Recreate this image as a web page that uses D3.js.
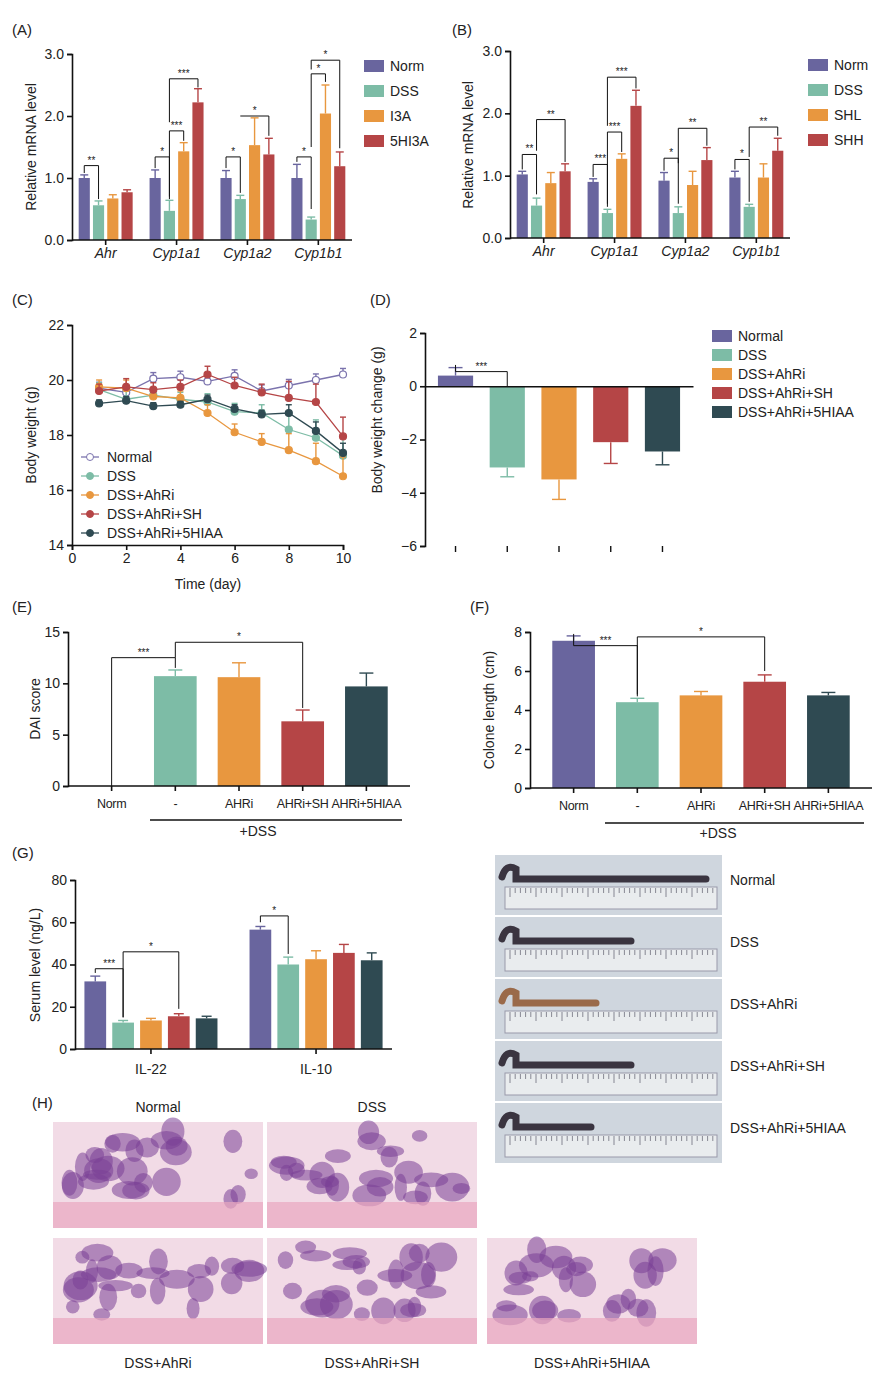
<!DOCTYPE html>
<html><head><meta charset="utf-8">
<script src="https://cdn.jsdelivr.net/npm/d3@7"></script>
<style>body{margin:0;background:#fff}text{font-family:Arial,"Liberation Sans",sans-serif;fill:#222}</style>
</head><body><svg id="fig" width="889" height="1379"></svg>
<script>
// colours
var colA = ["#69659e", "#7dbca6", "#e8973f", "#b54546"];
var col5 = ["#69659e", "#7dbca6", "#e8973f", "#b54546", "#2f4a52"];

// (A) mRNA
var genes = ["Ahr", "Cyp1a1", "Cyp1a2", "Cyp1b1"];
var legA = ["Norm", "DSS", "I3A", "5HI3A"];
var valA = [[1.0, 0.56, 0.67, 0.77], [1.0, 0.47, 1.43, 2.22], [1.0, 0.66, 1.53, 1.38], [1.0, 0.33, 2.04, 1.19]];
var errA = [[0.05, 0.07, 0.06, 0.04], [0.13, 0.17, 0.14, 0.22], [0.12, 0.06, 0.44, 0.26], [0.22, 0.04, 0.46, 0.23]];
// (B)
var legB = ["Norm", "DSS", "SHL", "SHH"];
var valB = [[1.02, 0.52, 0.88, 1.07], [0.9, 0.4, 1.27, 2.12], [0.92, 0.4, 0.85, 1.25], [0.97, 0.5, 0.97, 1.4]];
var errB = [[0.05, 0.12, 0.17, 0.12], [0.05, 0.06, 0.08, 0.25], [0.13, 0.1, 0.22, 0.2], [0.1, 0.04, 0.22, 0.2]];
// (C) body weight
var days = [1, 2, 3, 4, 5, 6, 7, 8, 9, 10];
var groups = ["Normal", "DSS", "DSS+AhRi", "DSS+AhRi+SH", "DSS+AhRi+5HIAA"];
var wNormal = [19.7, 19.55, 20.05, 20.1, 19.95, 20.15, 19.6, 19.8, 20.0, 20.2];
var wDSS = [19.65, 19.3, 19.45, 19.3, 19.2, 18.85, 18.8, 18.2, 17.9, 17.25];
var wAhRi = [19.75, 19.7, 19.4, 19.35, 18.8, 18.1, 17.75, 17.45, 17.05, 16.5];
var wSH = [19.6, 19.75, 19.65, 19.75, 20.2, 19.8, 19.55, 19.35, 19.2, 17.95];
var w5HIAA = [19.15, 19.25, 19.05, 19.1, 19.3, 18.95, 18.75, 18.8, 18.15, 17.35];
var wErr = [0.25, 0.3, 0.25, 0.25, 0.3, 0.3, 0.3, 0.6, 0.65, 0.7];
// (D) weight change
var chgVal = [0.4, -3.05, -3.5, -2.1, -2.45];
var chgErr = [0.3, 0.35, 0.75, 0.8, 0.5];
// (E) DAI
var xLab = ["Norm", "-", "AHRi", "AHRi+SH", "AHRi+5HIAA"];
var daiVal = [0, 10.7, 10.6, 6.3, 9.7];
var daiErr = [0, 0.6, 1.4, 1.1, 1.3];
// (F) colon length
var colVal = [7.55, 4.4, 4.75, 5.45, 4.75];
var colErr = [0.25, 0.2, 0.2, 0.35, 0.15];
// (G) serum
var cyto = ["IL-22", "IL-10"];
var serVal = [[32, 12.5, 13.5, 15.5, 14.5], [56.5, 40, 42.5, 45.5, 42]];
var serErr = [[2.5, 1, 1, 1.2, 1], [1.5, 3.5, 4, 4, 3.5]];

var svg = d3.select("#fig");

function label(x, y, t, o) {
  o = o || {};
  return svg.append("text").attr("x", x).attr("y", y).text(t)
    .attr("font-size", o.size || 14).attr("text-anchor", o.anchor || "start")
    .attr("font-style", o.italic ? "italic" : null);
}
function styleAxis(g) {
  g.selectAll("path,line").attr("stroke", "#111").attr("stroke-width", 1.6);
  g.selectAll("text").attr("font-size", 14).attr("fill", "#222");
}
function ylabel(x, y, t) {
  svg.append("text").attr("transform", "translate(" + x + "," + y + ") rotate(-90)")
    .attr("text-anchor", "middle").attr("font-size", 14).text(t);
}
function errBar(x, y0, y1, c, w) {
  svg.append("line").attr("x1", x).attr("x2", x).attr("y1", y0).attr("y2", y1).attr("stroke", c).attr("stroke-width", 1.4);
  svg.append("line").attr("x1", x - w).attr("x2", x + w).attr("y1", y1).attr("y2", y1).attr("stroke", c).attr("stroke-width", 1.4);
}
function bracket(x1, x2, ya, yb, y, t) {
  svg.append("path").attr("d", "M" + x1 + "," + ya + "V" + y + "H" + x2 + "V" + yb)
    .attr("fill", "none").attr("stroke", "#111").attr("stroke-width", 1);
  label((x1 + x2) / 2, y - 2, t, {size: 10, anchor: "middle"});
}
function legend(x, y, names, cols, dy) {
  names.forEach(function(n, i) {
    svg.append("rect").attr("x", x).attr("y", y + i * dy - 6).attr("width", 20).attr("height", 12).attr("fill", cols[i]);
    label(x + 26, y + i * dy + 5, n);
  });
}

// grouped gene chart
function geneChart(x0, x1, yTop, yBot, vals, errs, names, legX, legY) {
  var x = d3.scaleBand().domain(genes).range([x0, x1]).paddingInner(0.15).paddingOuter(0.05);
  var xs = d3.scaleBand().domain(d3.range(4)).range([0, x.bandwidth()]).padding(0.22);
  var y = d3.scaleLinear().domain([0, 3]).range([yBot, yTop]);
  genes.forEach(function(g, gi) {
    vals[gi].forEach(function(v, i) {
      var bx = x(g) + xs(i);
      svg.append("rect").attr("x", bx).attr("y", y(v)).attr("width", xs.bandwidth()).attr("height", yBot - y(v)).attr("fill", colA[i]);
      errBar(bx + xs.bandwidth() / 2, y(v), y(v + errs[gi][i]), colA[i], 4);
    });
  });
  var ya = svg.append("g").attr("transform", "translate(" + x0 + ",0)")
    .call(d3.axisLeft(y).tickValues([0, 1, 2, 3]).tickFormat(d3.format(".1f")).tickSize(5));
  styleAxis(ya);
  var xa = svg.append("g").attr("transform", "translate(0," + yBot + ")").call(d3.axisBottom(x).tickSize(5));
  styleAxis(xa);
  xa.select(".domain").attr("d", "M" + x0 + ",0H" + x1);
  xa.selectAll("text").attr("font-style", "italic");
  legend(legX, legY, names, colA, 25);
  return {x: x, xs: xs, y: y};
}

// (A)
label(12, 35, "(A)", {size: 15});
var A = geneChart(72, 352, 54, 240, valA, errA, legA, 364, 66);
ylabel(36, 147, "Relative mRNA level");
function cx(S, gi, i) { return S.x(genes[gi]) + S.xs(i) + S.xs.bandwidth() / 2; }
bracket(cx(A, 0, 0), cx(A, 0, 1), A.y(1.08), A.y(0.66), A.y(1.2), "**");
bracket(cx(A, 1, 0), cx(A, 1, 1), A.y(1.16), A.y(0.66), A.y(1.34), "*");
bracket(cx(A, 1, 1), cx(A, 1, 2), A.y(0.7), A.y(1.6), A.y(1.76), "***");
bracket(cx(A, 1, 1), cx(A, 1, 3), A.y(1.9), A.y(2.46), A.y(2.6), "***");
bracket(cx(A, 2, 0), cx(A, 2, 1), A.y(1.16), A.y(0.76), A.y(1.34), "*");
bracket(cx(A, 2, 1), cx(A, 2, 3), A.y(2.0), A.y(1.68), A.y(2.0), "*");
bracket(cx(A, 3, 0), cx(A, 3, 1), A.y(1.26), A.y(0.5), A.y(1.34), "*");
bracket(cx(A, 3, 1), cx(A, 3, 2), A.y(1.5), A.y(2.55), A.y(2.68), "*");
bracket(cx(A, 3, 1), cx(A, 3, 3), A.y(2.75), A.y(1.48), A.y(2.9), "*");

// (B)
label(452, 35, "(B)", {size: 15});
var B = geneChart(510, 790, 51, 238, valB, errB, legB, 808, 65);
ylabel(473, 145, "Relative mRNA level");
bracket(cx(B, 0, 0), cx(B, 0, 1), B.y(1.1), B.y(0.7), B.y(1.34), "**");
bracket(cx(B, 0, 1), cx(B, 0, 3), B.y(1.4), B.y(1.22), B.y(1.9), "**");
bracket(cx(B, 1, 0), cx(B, 1, 1), B.y(0.98), B.y(0.5), B.y(1.18), "***");
bracket(cx(B, 1, 1), cx(B, 1, 2), B.y(0.55), B.y(1.38), B.y(1.7), "***");
bracket(cx(B, 1, 1), cx(B, 1, 3), B.y(1.8), B.y(2.4), B.y(2.58), "***");
bracket(cx(B, 2, 0), cx(B, 2, 1), B.y(1.08), B.y(0.55), B.y(1.28), "*");
bracket(cx(B, 2, 1), cx(B, 2, 3), B.y(1.2), B.y(1.48), B.y(1.76), "**");
bracket(cx(B, 3, 0), cx(B, 3, 1), B.y(1.1), B.y(0.58), B.y(1.26), "*");
bracket(cx(B, 3, 1), cx(B, 3, 3), B.y(1.3), B.y(1.64), B.y(1.78), "**");

// (C)
label(12, 305, "(C)", {size: 15});
var xC = d3.scaleLinear().domain([0, 10]).range([72, 343]);
var yC = d3.scaleLinear().domain([14, 22]).range([545, 325]);
var series = [wNormal, wDSS, wAhRi, wSH, w5HIAA];
var cC = ["#7b73ad", "#7dbca6", "#e8973f", "#b54546", "#2f4a52"];
series.forEach(function(s, k) {
  s.forEach(function(v, i) {
    var e = (k === 0 ? 0.22 : wErr[i]) * (k === 4 ? 0.5 : 1);
    errBar(xC(days[i]), yC(v), yC(v + e), cC[k], 3);
  });
  svg.append("path").datum(s).attr("fill", "none").attr("stroke", cC[k]).attr("stroke-width", 1.3)
    .attr("d", d3.line().x(function(d, i) { return xC(days[i]); }).y(function(d) { return yC(d); }));
  svg.selectAll(null).data(s).enter().append("circle").attr("cx", function(d, i) { return xC(days[i]); })
    .attr("cy", function(d) { return yC(d); }).attr("r", 3.5)
    .attr("fill", k === 0 ? "#fff" : cC[k]).attr("stroke", cC[k]).attr("stroke-width", 1.2);
});
styleAxis(svg.append("g").attr("transform", "translate(72,0)").call(d3.axisLeft(yC).tickValues([14, 16, 18, 20, 22]).tickSize(5)));
styleAxis(svg.append("g").attr("transform", "translate(0,545)").call(d3.axisBottom(xC).tickValues([0, 2, 4, 6, 8, 10]).tickSize(5)));
label(208, 589, "Time (day)", {anchor: "middle"});
ylabel(36, 435, "Body weight (g)");
groups.forEach(function(n, i) {
  var y = 457 + i * 19;
  svg.append("line").attr("x1", 81).attr("x2", 99).attr("y1", y).attr("y2", y).attr("stroke", cC[i]).attr("stroke-width", 1.3);
  svg.append("circle").attr("cx", 90).attr("cy", y).attr("r", 3.5).attr("fill", i === 0 ? "#fff" : cC[i]).attr("stroke", cC[i]);
  label(107, y + 5, n);
});

// (D)
label(370, 305, "(D)", {size: 15});
var xD = d3.scaleBand().domain(groups).range([425, 693]).paddingInner(0.32).paddingOuter(0.25);
var yD = d3.scaleLinear().domain([-6, 2]).range([546, 333]);
groups.forEach(function(g, i) {
  var v = chgVal[i], bx = xD(g), w = xD.bandwidth();
  svg.append("rect").attr("x", bx).attr("y", yD(Math.max(0, v))).attr("width", w).attr("height", Math.abs(yD(v) - yD(0))).attr("fill", col5[i]);
  errBar(bx + w / 2, yD(v), yD(v + (v > 0 ? chgErr[i] : -chgErr[i])), col5[i], 7);
});
styleAxis(svg.append("g").attr("transform", "translate(425,0)").call(d3.axisLeft(yD).tickValues([-6, -4, -2, 0, 2]).tickSize(5)));
var xaD = svg.append("g").attr("transform", "translate(0," + yD(0) + ")").call(d3.axisBottom(xD).tickSize(0).tickFormat(""));
styleAxis(xaD);
xD.domain().forEach(function(g) {
  svg.append("line").attr("x1", xD(g) + xD.bandwidth() / 2).attr("x2", xD(g) + xD.bandwidth() / 2).attr("y1", 546).attr("y2", 552).attr("stroke", "#111").attr("stroke-width", 1.4);
});
ylabel(382, 420, "Body weight change (g)");
bracket(xD(groups[0]) + xD.bandwidth() / 2, xD(groups[1]) + xD.bandwidth() / 2, yD(0.8), yD(0), yD(0.55), "***");
legend(712, 336, groups, col5, 19);

// E / F bar charts
function barChart(x0, x1, yTop, yBot, max, ticks, vals, errs) {
  var x = d3.scaleBand().domain(xLab).range([x0, x1]).paddingInner(0.33).paddingOuter(0.35);
  var y = d3.scaleLinear().domain([0, max]).range([yBot, yTop]);
  xLab.forEach(function(g, i) {
    if (vals[i] > 0) {
      svg.append("rect").attr("x", x(g)).attr("y", y(vals[i])).attr("width", x.bandwidth()).attr("height", yBot - y(vals[i])).attr("fill", col5[i]);
      errBar(x(g) + x.bandwidth() / 2, y(vals[i]), y(vals[i] + errs[i]), col5[i], 7);
    }
  });
  styleAxis(svg.append("g").attr("transform", "translate(" + x0 + ",0)").call(d3.axisLeft(y).tickValues(ticks).tickSize(5)));
  var xa = svg.append("g").attr("transform", "translate(0," + yBot + ")").call(d3.axisBottom(x).tickSize(5));
  styleAxis(xa);
  xa.select(".domain").attr("d", "M" + x0 + ",0H" + x1);
  xa.selectAll("text").attr("dy", "1.1em").attr("font-size", 12.5).attr("letter-spacing", -0.3);
  return {x: x, y: y, m: function(i) { return x(xLab[i]) + x.bandwidth() / 2; }};
}
label(12, 612, "(E)", {size: 15});
var E = barChart(68, 410, 632, 786, 15, [0, 5, 10, 15], daiVal, daiErr);
ylabel(40, 709, "DAI score");
bracket(E.m(0), E.m(1), E.y(0), E.y(11.5), E.y(12.5), "***");
bracket(E.m(1), E.m(3), E.y(12.5), E.y(7.6), E.y(14), "*");
svg.append("line").attr("x1", 150).attr("x2", 402).attr("y1", 820).attr("y2", 820).attr("stroke", "#111").attr("stroke-width", 1.4);
label(258, 836, "+DSS", {anchor: "middle"});

label(470, 612, "(F)", {size: 15});
var F = barChart(530, 872, 632, 788, 8, [0, 2, 4, 6, 8], colVal, colErr);
ylabel(494, 710, "Colone length (cm)");
bracket(F.m(0), F.m(1), F.y(7.9), F.y(4.7), F.y(7.3), "***");
bracket(F.m(1), F.m(3), F.y(4.8), F.y(6.0), F.y(7.75), "*");
svg.append("line").attr("x1", 605).attr("x2", 864).attr("y1", 823).attr("y2", 823).attr("stroke", "#111").attr("stroke-width", 1.4);
label(718, 838, "+DSS", {anchor: "middle"});

// (G)
label(12, 858, "(G)", {size: 15});
var xG = d3.scaleBand().domain(cyto).range([75, 392]).paddingInner(0.12).paddingOuter(0.02);
var xGs = d3.scaleBand().domain(d3.range(5)).range([0, xG.bandwidth()]).padding(0.22);
var yG = d3.scaleLinear().domain([0, 80]).range([1049, 880]);
cyto.forEach(function(c, ci) {
  serVal[ci].forEach(function(v, i) {
    var bx = xG(c) + xGs(i);
    svg.append("rect").attr("x", bx).attr("y", yG(v)).attr("width", xGs.bandwidth()).attr("height", 1049 - yG(v)).attr("fill", col5[i]);
    errBar(bx + xGs.bandwidth() / 2, yG(v), yG(v + serErr[ci][i]), col5[i], 5);
  });
});
styleAxis(svg.append("g").attr("transform", "translate(75,0)").call(d3.axisLeft(yG).tickValues([0, 20, 40, 60, 80]).tickSize(5)));
var xaG = svg.append("g").attr("transform", "translate(0,1049)").call(d3.axisBottom(xG).tickSize(5));
styleAxis(xaG);
xaG.select(".domain").attr("d", "M75,0H392");
xaG.selectAll("text").attr("dy", "1.2em");
ylabel(40, 965, "Serum level (ng/L)");
function gx(ci, i) { return xG(cyto[ci]) + xGs(i) + xGs.bandwidth() / 2; }
bracket(gx(0, 0), gx(0, 1), yG(36), yG(15), yG(38), "***");
bracket(gx(0, 1), gx(0, 3), yG(15), yG(19), yG(46), "*");
bracket(gx(1, 0), gx(1, 1), yG(60), yG(45), yG(63), "*");

// colon photos (placeholders)
var photoNames = ["Normal", "DSS", "DSS+AhRi", "DSS+AhRi+SH", "DSS+AhRi+5HIAA"];
var colonLen = [190, 115, 80, 115, 75];
photoNames.forEach(function(n, i) {
  var y = 855 + i * 62;
  svg.append("rect").attr("x", 495).attr("y", y).attr("width", 227).attr("height", 60).attr("fill", "#cfd6de");
  svg.append("rect").attr("x", 505).attr("y", y + 32).attr("width", 212).attr("height", 22).attr("fill", "#e9ecee").attr("stroke", "#99a");
  for (var t = 0; t < 40; t++) svg.append("line").attr("x1", 510 + t * 5.2).attr("x2", 510 + t * 5.2).attr("y1", y + 33).attr("y2", y + (t % 5 ? 38 : 42)).attr("stroke", "#445").attr("stroke-width", 0.6);
  svg.append("path").attr("d", "M502," + (y + 22) + "q4,-14 14,-8 v10 h" + colonLen[i])
    .attr("fill", "none").attr("stroke", i === 2 ? "#9a6a4a" : "#3a3440").attr("stroke-width", 7).attr("stroke-linecap", "round");
  label(730, y + 30, n);
});

// (H) histology placeholders
label(32, 1108, "(H)", {size: 15});
var hPos = [[53, 1122, "Normal", 1112], [267, 1122, "DSS", 1112], [53, 1238, "DSS+AhRi", 1368], [267, 1238, "DSS+AhRi+SH", 1368], [487, 1238, "DSS+AhRi+5HIAA", 1368]];
hPos.forEach(function(p, i) {
  var g = svg.append("g");
  g.append("rect").attr("x", p[0]).attr("y", p[1]).attr("width", 210).attr("height", 106).attr("fill", "#f2dbe6");
  var rng = d3.randomLcg(i + 3);
  for (var k = 0; k < 26; k++) {
    g.append("ellipse").attr("cx", p[0] + 10 + rng() * 190).attr("cy", p[1] + 8 + rng() * 70)
      .attr("rx", 6 + rng() * 12).attr("ry", 5 + rng() * 10).attr("fill", "#7a3f95").attr("opacity", 0.55);
  }
  g.append("rect").attr("x", p[0]).attr("y", p[1] + 80).attr("width", 210).attr("height", 26).attr("fill", "#e9a6bf").attr("opacity", 0.7);
  label(p[0] + 105, p[3], p[2], {anchor: "middle"});
});
</script></body></html>
